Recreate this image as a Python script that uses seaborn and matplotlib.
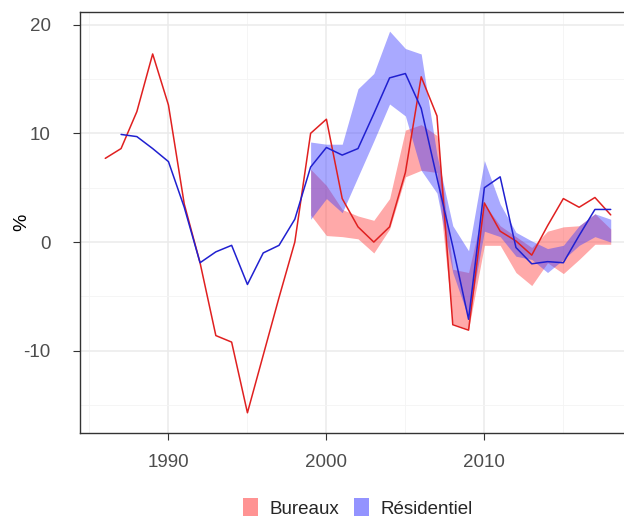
import matplotlib
matplotlib.use("Agg")
import matplotlib.pyplot as plt
from matplotlib.patches import Patch
from matplotlib.ticker import MultipleLocator
import seaborn as sns
import pandas as pd

# annual growth, %
years_bur = list(range(1986, 2019))
bureaux = [7.7, 8.6, 12.0, 17.3, 12.6, 3.5, -1.9, -8.6, -9.2, -15.7,
           -10.4, -5.1, 0.0, 10.0, 11.3, 4.0, 1.4, 0.0, 1.4, 6.4,
           15.2, 11.6, -7.6, -8.1, 3.6, 1.0, 0.1, -1.2, 1.5, 4.0,
           3.2, 4.1, 2.5]

years_res = list(range(1987, 2019))
residentiel = [9.9, 9.7, 8.6, 7.4, 3.2, -1.9, -0.9, -0.3, -3.9, -1.0,
               -0.3, 2.1, 6.9, 8.7, 8.0, 8.6, 11.8, 15.1, 15.5, 12.3,
               5.9, -0.4, -7.1, 5.0, 6.0, -0.5, -2.0, -1.8, -1.9, 0.6,
               3.0, 3.0]

# range of estimates, from 1999
years_band = list(range(1999, 2019))
bur_low = [2.5, 0.6, 0.5, 0.3, -1.0, 1.2, 6.0, 6.6, 6.4, -7.5,
           -8.0, -0.3, -0.3, -2.8, -4.0, -1.9, -2.9, -1.6, -0.2, -0.2]
bur_high = [6.7, 5.2, 3.0, 2.4, 2.0, 4.0, 10.3, 10.8, 9.8, -2.5,
            -2.8, 3.5, 1.5, 0.5, -0.5, 1.0, 1.4, 1.5, 2.6, 1.2]
res_low = [2.1, 4.0, 2.7, 6.0, 9.3, 12.7, 11.6, 6.6, 4.5, -2.8,
           -7.0, 1.0, 0.5, -1.3, -1.6, -2.8, -1.6, -0.3, 0.5, 0.0]
res_high = [9.2, 9.0, 9.0, 14.1, 15.5, 19.4, 17.8, 17.3, 8.0, 1.5,
            -0.8, 7.5, 3.5, 0.9, 0.1, -0.6, -0.3, 1.5, 2.6, 2.1]

df = pd.concat([
    pd.DataFrame({"year": years_bur, "value": bureaux, "serie": "Bureaux"}),
    pd.DataFrame({"year": years_res, "value": residentiel, "serie": "Résidentiel"}),
])

sns.set_theme(style="white")
plt.rcParams["font.family"] = ["Liberation Sans", "DejaVu Sans"]
plt.rcParams["axes.unicode_minus"] = False

fig = plt.figure(figsize=(6.24, 5.18), dpi=100)
# panel runs past the right edge of the picture, as in the original crop
ax = fig.add_axes([80 / 624, 1 - 433 / 518, 556 / 624, 421 / 518])

ax.fill_between(years_band, bur_low, bur_high, color="#FF4040", alpha=0.45, lw=0)
ax.fill_between(years_band, res_low, res_high, color="#4040FF", alpha=0.45, lw=0)

sns.lineplot(data=df, x="year", y="value", hue="serie",
             palette={"Bureaux": "#E02020", "Résidentiel": "#2020D0"},
             linewidth=1.1, legend=False, ax=ax)

ax.set_xlim(1984.4, 2019.6)
ax.set_ylim(-17.56, 21.16)
ax.xaxis.set_major_locator(MultipleLocator(10))
ax.xaxis.set_minor_locator(MultipleLocator(5))
ax.yaxis.set_major_locator(MultipleLocator(10))
ax.yaxis.set_minor_locator(MultipleLocator(5))
ax.grid(which="major", color="#EBEBEB", linewidth=1.1)
ax.grid(which="minor", color="#F4F4F4", linewidth=0.6)
ax.set_axisbelow(True)

for s in ax.spines.values():
    s.set_color("#333333")
    s.set_linewidth(1.0)

ax.tick_params(axis="x", which="major", direction="out", length=5,
               width=0.8, color="#333333", labelsize=13.5, labelcolor="#4D4D4D",
               bottom=True, pad=10)
ax.tick_params(axis="y", which="major", direction="out", length=5,
               width=0.8, color="#333333", labelsize=13.5, labelcolor="#4D4D4D",
               left=True, pad=16)
ax.tick_params(which="minor", length=0)

ax.set_xlabel("")
ax.set_ylabel("%", fontsize=14, color="black")
ax.yaxis.set_label_coords(-0.09, 0.5)

handles = [Patch(facecolor="#FF9393", edgecolor="none", label="Bureaux"),
           Patch(facecolor="#9393FF", edgecolor="none", label="Résidentiel")]
fig.legend(handles=handles, loc="center", bbox_to_anchor=(358 / 624, 1 - 508 / 518),
           ncol=2, frameon=False, fontsize=13.5, handlelength=0.8, handleheight=1.1,
           handletextpad=0.6, columnspacing=0.8, borderaxespad=0)

fig.savefig("out.png", dpi=100)
plt.close(fig)
